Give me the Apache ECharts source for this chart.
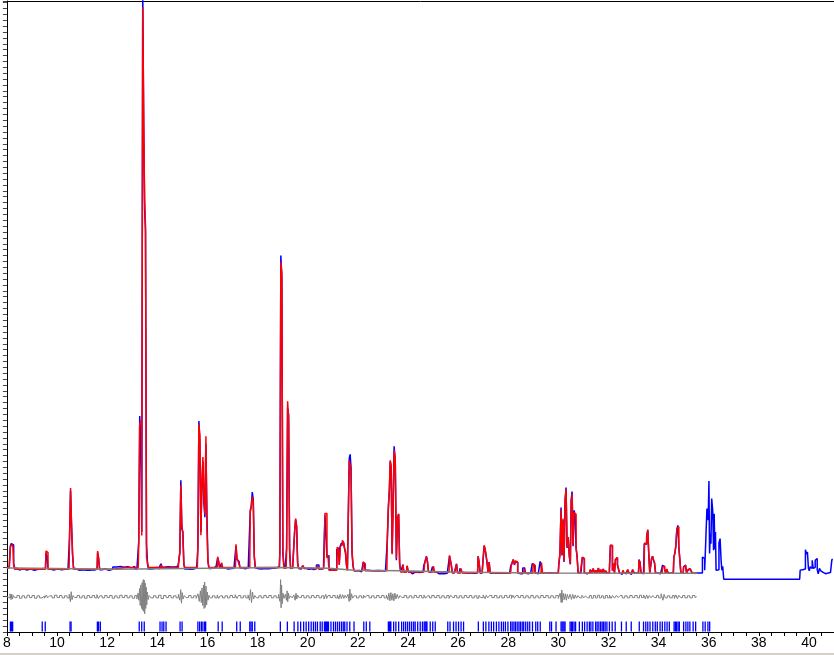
<!DOCTYPE html>
<html>
<head>
<meta charset="utf-8">
<script src="https://cdn.jsdelivr.net/npm/echarts@6/dist/echarts.min.js"></script>
<style>
html,body{margin:0;padding:0;background:#fff;}
#chart{width:834px;height:655px;}
</style>
</head>
<body>
<div id="chart"></div>
<script>
// 2-theta tick labels shown on the x axis
const xTickLabels = [8,10,12,14,16,18,20,22,24,26,28,30,32,34,36,38,40];

// Observed profile [2theta, counts]
const obsPoints = [
[8.00,-20],[8.04,-30],[8.08,10],[8.12,60],[8.16,360],[8.19,403],[8.22,403],[8.25,380],[8.29,60],[8.33,-10],[8.40,-17],[8.50,-45],[8.65,-25],[8.80,-45],[8.95,-30],[9.10,-50],[9.25,-35],[9.40,-25],[9.54,-15],[9.58,240],[9.62,200],[9.66,-30],[9.80,-45],[9.95,-25],[10.10,-40],[10.25,-35],[10.40,-20],[10.48,-30],[10.52,510],[10.56,1300],[10.60,690],[10.64,220],[10.68,-20],[10.80,-50],[11.00,-45],[11.20,-50],[11.40,-45],[11.60,-30],[11.64,250],[11.68,140],[11.72,-40],[11.85,-30],[12.00,-50],[12.15,-35],[12.30,5],[12.45,15],[12.60,0],[12.75,10],[12.90,-10],[13.05,15],[13.15,-30],[13.24,20],
[13.28,430],[13.32,2570],[13.36,2160],[13.40,600],[13.44,9800],[13.48,7400],[13.51,6100],[13.55,5700],[13.59,400],[13.63,60],[13.67,-30],[13.80,-20],[13.95,0],[14.05,-25],[14.13,10],[14.17,60],[14.21,0],[14.35,10],[14.50,5],[14.65,5],[14.80,10],
[14.84,20],[14.88,100],[14.92,240],[14.96,1479],[15.00,650],[15.04,612],[15.08,50],[15.12,-30],[15.25,-35],[15.40,-30],[15.55,-20],
[15.60,10],[15.64,330],[15.68,2487],[15.72,2100],[15.76,600],[15.80,1400],[15.84,1800],[15.88,1100],[15.92,850],[15.96,2100],[16.00,918],[16.04,120],[16.08,-20],[16.20,-10],[16.30,10],
[16.39,-10],[16.43,160],[16.47,90],[16.51,-20],[16.59,60],[16.63,-10],[16.75,-30],[16.90,-20],[17.00,-15],
[17.12,0],[17.16,360],[17.20,130],[17.24,100],[17.28,120],[17.32,-10],[17.45,-25],[17.57,-10],
[17.69,10],[17.73,969],[17.77,1037],[17.81,1280],[17.85,1150],[17.89,180],[17.93,-10],[18.00,-20],[18.15,-30],[18.30,-20],[18.45,-25],[18.60,-15],[18.75,-10],
[18.87,10],[18.91,260],[18.95,5300],[18.99,4900],[19.03,250],[19.07,30],[19.14,-10],[19.18,323],[19.22,2700],[19.26,2600],[19.30,300],[19.34,-20],[19.40,-10],
[19.46,0],[19.50,612],[19.54,810],[19.58,700],[19.62,80],[19.66,-20],[19.75,-30],[19.84,20],[19.90,-20],[20.00,-35],[20.10,-25],[20.20,-40],[20.30,-20],[20.40,40],[20.50,-30],[20.60,-20],
[20.67,68],[20.71,890],[20.75,900],[20.79,175],[20.83,200],[20.87,-30],[20.95,-50],[21.05,-40],[21.12,-45],
[21.20,300],[21.24,330],[21.28,50],[21.32,357],[21.36,403],[21.41,430],[21.45,400],[21.49,320],[21.53,240],[21.57,40],[21.60,-40],[21.64,830],[21.68,1850],[21.71,1921],[21.75,1695],[21.79,250],[21.83,30],[21.87,-60],
[22.00,-55],[22.10,-75],[22.20,-50],[22.24,90],[22.28,50],[22.32,-50],[22.45,-55],[22.60,-60],[22.75,-55],[22.90,-60],[23.05,-60],
[23.16,-50],[23.20,480],[23.24,1000],[23.28,1300],[23.31,1800],[23.35,1700],[23.39,238],[23.43,1088],[23.47,2057],[23.52,1800],[23.56,120],[23.61,830],[23.65,900],[23.69,60],[23.73,-70],
[23.78,-80],[23.82,40],[23.86,-80],[23.95,-75],[23.99,20],[24.03,-75],[24.15,-80],[24.20,-110],[24.30,-80],[24.45,-90],
[24.60,-80],[24.68,40],[24.72,120],[24.76,187],[24.80,90],[24.84,-70],[24.92,-85],[25.04,10],[25.08,-80],[25.20,-110],[25.30,-110],[25.40,-110],[25.50,-100],
[25.64,-80],[25.68,190],[25.71,220],[25.75,40],[25.79,-90],[25.92,-90],[25.96,60],[26.00,-90],[26.14,-20],[26.18,-90],[26.30,-95],[26.45,-95],[26.60,-100],
[26.78,-90],[26.82,187],[26.86,80],[26.90,-95],[27.02,-90],[27.06,360],[27.10,300],[27.14,190],[27.18,70],[27.22,-95],[27.26,90],[27.30,-95],[27.45,-95],[27.60,-100],[27.75,-95],[27.90,-100],
[28.06,-95],[28.14,20],[28.18,80],[28.23,131],[28.27,40],[28.31,100],[28.36,80],[28.40,-95],[28.50,-110],[28.66,-10],[28.70,-95],[28.80,-110],[28.90,-95],
[29.02,63],[29.06,30],[29.10,-95],[29.20,-110],[29.35,102],[29.39,-95],[29.50,-100],[29.65,-95],[29.80,-100],
[30.00,-95],[30.04,40],[30.09,220],[30.13,1015],[30.17,204],[30.21,800],[30.25,90],[30.29,1120],[30.33,1355],[30.37,330],[30.42,500],[30.46,180],[30.50,50],[30.53,1151],[30.57,1287],[30.61,360],[30.65,969],[30.69,880],[30.73,320],[30.77,190],[30.81,-90],
[30.90,-100],[30.94,-80],[30.98,164],[31.02,140],[31.06,-95],[31.15,-110],[31.25,-95],[31.30,-45],[31.36,-90],[31.42,-25],[31.47,-95],[31.52,-50],[31.58,-100],[31.62,-15],[31.67,-95],[31.72,-40],[31.77,-95],[31.82,-30],[31.87,-100],[31.92,-60],[31.97,-100],
[32.02,-95],[32.06,-40],[32.10,374],[32.14,360],[32.18,-50],[32.22,63],[32.26,-95],[32.30,131],[32.34,164],[32.38,40],[32.42,-30],[32.46,-95],[32.55,-120],[32.60,-60],[32.64,-95],[32.72,-110],[32.80,-45],[32.84,-95],[32.92,-120],[33.00,-40],[33.04,-95],[33.12,-100],
[33.20,-95],[33.24,130],[33.28,90],[33.32,-95],[33.40,-110],[33.46,400],[33.50,390],[33.55,527],[33.59,630],[33.63,220],[33.67,-95],[33.70,-100],[33.74,140],[33.78,190],[33.82,120],[33.86,70],[33.90,-95],[34.00,-100],[34.08,-110],
[34.14,-95],[34.18,34],[34.22,10],[34.26,-30],[34.30,-95],[34.36,-40],[34.40,-95],[34.50,-100],
[34.59,-90],[34.63,170],[34.67,240],[34.71,360],[34.75,640],[34.79,714],[34.83,330],[34.87,130],[34.91,-95],
[34.98,-100],[35.02,10],[35.06,40],[35.10,0],[35.14,-95],[35.20,-50],[35.26,-30],[35.32,-45],[35.36,-95],[35.45,-100],[35.55,-97],[35.65,-97],[35.72,-97],
[35.78,175],[35.82,148],[35.86,-51],[35.90,403],[35.96,998],[36.00,800],[36.02,1467],[36.05,233],[36.08,573],[36.10,400],[36.14,1168],[36.18,969],[36.21,289],[36.23,912],[36.26,306],[36.28,600],[36.31,-51],[36.35,-80],[36.39,-40],[36.43,413],[36.48,488],[36.51,119],[36.54,-51],[36.58,17],[36.62,-204],
[39.63,-204],[39.67,-51],[39.72,-40],[39.78,-10],[39.83,-30],[39.89,300],[39.92,220],[39.96,260],[40.00,-20],[40.03,-60],[40.07,10],[40.11,-20],[40.15,119],[40.19,-20],[40.23,0],[40.27,119],[40.31,148],[40.35,-40],[40.39,-110],[40.45,-20],[40.50,-60],[40.55,-90],[40.62,-95],[40.68,-110],[40.74,-95],[40.80,-110],[40.86,-90],[40.90,-100],[40.93,131],[40.98,131]
];

// Calculated profile [2theta, counts]
const calcPoints = [
[8.00,-10],[8.08,-10],[8.12,40],[8.16,357],[8.19,330],[8.22,380],[8.25,403],[8.29,30],[8.33,-34],
[9.54,-34],[9.58,278],[9.62,250],[9.66,-34],
[10.48,-34],[10.52,490],[10.56,1348],[10.60,714],[10.64,230],[10.68,-34],
[11.60,-34],[11.64,277],[11.68,160],[11.72,-34],
[12.22,-34],[12.26,-5],
[13.24,-5],[13.28,410],[13.32,2450],[13.36,2470],[13.40,540],[13.44,9520],[13.48,7565],[13.51,6240],[13.55,5814],[13.59,175],[13.63,80],[13.67,-5],
[14.13,-5],[14.17,40],[14.21,-5],
[14.84,-5],[14.88,136],[14.92,260],[14.96,1400],[15.00,714],[15.04,560],[15.08,50],[15.12,-5],
[15.60,-5],[15.64,374],[15.68,2431],[15.72,2244],[15.76,544],[15.80,1423],[15.84,1875],[15.88,1196],[15.92,900],[15.96,2227],[16.00,700],[16.04,100],[16.08,-5],
[16.39,-5],[16.43,180],[16.47,100],[16.51,-5],[16.55,-5],[16.59,80],[16.63,-5],
[17.12,-5],[17.16,391],[17.20,150],[17.24,110],[17.28,119],[17.32,-5],
[17.69,-5],[17.73,940],[17.77,1025],[17.81,1200],[17.85,1110],[17.89,200],[17.93,-5],
[18.87,-5],[18.91,240],[18.95,5185],[18.99,5000],[19.03,300],[19.07,-17],
[19.14,-17],[19.18,300],[19.22,2822],[19.26,2511],[19.30,250],[19.34,-17],
[19.46,-17],[19.50,600],[19.54,828],[19.58,685],[19.62,60],[19.66,-17],
[19.80,-17],[19.84,30],[19.88,-17],
[20.36,-25],[20.40,34],[20.44,-25],
[20.63,-25],[20.67,40],[20.71,913],[20.75,913],[20.79,160],[20.83,204],[20.87,-50],
[21.16,-50],[21.20,345],[21.24,300],[21.28,40],[21.32,357],[21.36,380],[21.41,459],[21.45,420],[21.49,335],[21.53,260],[21.57,30],[21.60,-55],[21.64,855],[21.68,1819],[21.71,1850],[21.75,1650],[21.79,270],[21.83,20],[21.87,-58],
[22.20,-58],[22.24,90],[22.28,60],[22.32,-58],
[23.16,-58],[23.20,515],[23.24,1037],[23.28,1326],[23.31,1819],[23.35,1722],[23.39,220],[23.43,1050],[23.47,1989],[23.52,1847],[23.56,150],[23.61,855],[23.65,912],[23.69,70],[23.73,-80],
[23.78,-80],[23.82,51],[23.86,-80],[23.95,-80],[23.99,30],[24.03,-80],
[24.64,-80],[24.68,40],[24.72,131],[24.76,175],[24.80,100],[24.84,-80],
[25.00,-80],[25.04,20],[25.08,-80],
[25.64,-80],[25.68,204],[25.71,180],[25.75,40],[25.79,-95],
[25.92,-95],[25.96,51],[26.00,-95],[26.10,-95],[26.14,-20],[26.18,-95],
[26.78,-95],[26.82,187],[26.86,90],[26.90,-95],
[27.02,-95],[27.06,374],[27.10,318],[27.14,200],[27.18,80],[27.22,-95],[27.26,90],[27.30,-95],
[28.10,-100],[28.14,20],[28.18,80],[28.23,131],[28.27,50],[28.31,110],[28.36,90],[28.40,-100],[28.62,-100],[28.66,-17],[28.70,-100],
[28.98,-100],[29.02,63],[29.06,30],[29.10,-100],[29.31,-100],[29.35,80],[29.39,-100],
[30.00,-100],[30.04,60],[30.09,233],[30.13,980],[30.17,200],[30.21,828],[30.25,100],[30.29,1151],[30.33,1330],[30.37,345],[30.42,515],[30.46,200],[30.50,60],[30.53,1100],[30.57,1250],[30.61,374],[30.65,930],[30.69,900],[30.73,335],[30.77,175],[30.81,-100],
[30.94,-100],[30.98,175],[31.02,150],[31.06,-100],
[31.25,-100],[31.30,-40],[31.36,-100],[31.42,-20],[31.47,-100],[31.52,-50],[31.58,-100],[31.62,-10],[31.67,-100],[31.72,-40],[31.77,-100],[31.82,-30],[31.87,-100],[31.92,-60],[31.97,-100],
[32.02,-100],[32.06,-30],[32.10,374],[32.14,374],[32.18,-60],[32.22,63],[32.26,-100],[32.30,131],[32.34,164],[32.38,50],[32.42,-20],[32.46,-100],
[32.56,-100],[32.60,-50],[32.64,-100],[32.76,-100],[32.80,-40],[32.84,-100],[32.96,-100],[33.00,-45],[33.04,-100],
[33.20,-100],[33.24,119],[33.28,80],[33.32,-100],[33.42,-100],[33.46,413],[33.50,400],[33.55,500],[33.59,641],[33.63,233],[33.67,-100],
[33.70,-100],[33.74,150],[33.78,187],[33.82,130],[33.86,80],[33.90,-100],
[34.14,-100],[34.18,0],[34.22,20],[34.26,-20],[34.30,-100],[34.36,-30],[34.40,-100],
[34.59,-100],[34.63,164],[34.67,233],[34.71,374],[34.75,657],[34.79,690],[34.83,345],[34.87,120],[34.91,-100],
[34.98,-100],[35.02,0],[35.06,34],[35.10,10],[35.14,-100],[35.20,-40],[35.26,-20],[35.32,-40],[35.36,-100],[35.50,-105]
];

// Background level [2theta, counts] (held until the next point)
const backPoints = [
[8.00,-10],[8.30,-34],[12.22,-5],[18.98,-17],[20.86,-50],[21.86,-58],[23.70,-80],[25.78,-95],[29.00,-100],[35.55,-105]
];

// Difference (obs - calc) [2theta, counts]
const diffPoints = [
[8.00,0],[8.05,15],[8.10,-20],[8.15,50],[8.18,-50],[8.21,45],[8.24,-40],[8.28,20],[8.35,-15],[8.45,20],[8.55,-25],[8.65,15],[8.75,-20],[8.85,25],[8.95,-15],[9.05,20],[9.15,-25],[9.25,15],[9.35,-20],[9.45,10],[9.55,-25],[9.60,30],[9.65,-20],[9.75,15],[9.85,-20],[9.95,25],
[10.05,-15],[10.15,20],[10.25,-20],[10.35,15],[10.45,-20],[10.52,40],[10.55,-85],[10.58,85],[10.62,-50],[10.66,20],[10.75,-15],[10.85,20],[10.95,-20],[11.05,15],[11.15,-25],[11.25,20],[11.35,-15],[11.45,20],[11.55,-20],[11.63,35],[11.67,-30],[11.75,15],[11.85,-20],[11.95,20],
[12.05,-15],[12.15,20],[12.25,-25],[12.35,15],[12.45,-20],[12.55,25],[12.65,-15],[12.75,20],[12.85,-20],[12.95,15],[13.05,-25],[13.15,20],[13.22,-40],[13.25,60],[13.28,-60],[13.31,140],[13.33,-150],[13.36,200],[13.38,-200],[13.41,240],[13.43,-230],[13.45,290],[13.47,-250],[13.49,280],[13.51,-290],[13.53,230],[13.55,-200],[13.57,160],[13.59,-140],[13.62,80],[13.65,-50],[13.70,20],[13.80,-20],[13.90,15],
[14.00,-20],[14.10,25],[14.20,-30],[14.30,20],[14.40,-15],[14.50,20],[14.60,-20],[14.70,15],[14.80,-20],[14.88,40],[14.92,-60],[14.95,120],[14.98,-110],[15.01,70],[15.05,-40],[15.10,20],[15.20,-15],[15.30,20],[15.40,-20],[15.50,15],[15.60,-30],[15.65,50],[15.70,-80],[15.74,100],[15.77,-100],[15.80,150],[15.83,-150],[15.86,200],[15.88,-200],[15.90,250],[15.93,-180],[15.96,180],[15.98,-140],
[16.01,80],[16.04,-60],[16.08,25],[16.15,-20],[16.25,15],[16.35,-20],[16.43,30],[16.47,-30],[16.55,15],[16.65,-20],[16.75,15],[16.85,-20],[16.95,20],[17.05,-15],[17.16,35],[17.20,-30],[17.28,20],[17.38,-20],[17.48,15],[17.58,-20],[17.66,30],[17.70,-60],[17.74,120],[17.78,-100],[17.82,80],[17.86,-40],[17.92,20],
[18.00,-20],[18.10,15],[18.20,-20],[18.30,20],[18.40,-15],[18.50,20],[18.60,-20],[18.70,15],[18.80,-20],[18.88,40],[18.91,-80],[18.93,290],[18.95,-190],[18.97,200],[19.00,-120],[19.03,60],[19.08,-30],[19.14,40],[19.17,-60],[19.19,100],[19.22,-85],[19.25,60],[19.28,-30],[19.35,15],[19.42,-20],[19.48,30],[19.52,-60],[19.55,60],[19.58,-40],[19.62,30],[19.70,-15],[19.80,20],[19.90,-20],
[20.00,15],[20.10,-20],[20.20,20],[20.30,-15],[20.40,20],[20.50,-20],[20.60,15],[20.70,-40],[20.74,40],[20.78,-30],[20.85,20],[20.95,-15],[21.05,20],[21.15,-20],[21.22,30],[21.27,-40],[21.32,40],[21.37,-30],[21.42,35],[21.47,-30],[21.52,25],[21.58,-20],[21.64,40],[21.67,-80],[21.70,130],[21.73,-60],[21.77,50],[21.82,-25],[21.90,15],
[22.00,-20],[22.10,15],[22.20,-20],[22.26,25],[22.32,-15],[22.40,20],[22.50,-20],[22.60,15],[22.70,-20],[22.80,20],[22.90,-15],[23.00,20],[23.10,-20],[23.18,30],[23.22,-50],[23.26,60],[23.30,-70],[23.34,70],[23.38,-60],[23.42,50],[23.46,-70],[23.50,60],[23.54,-40],[23.60,40],[23.65,-30],[23.72,20],[23.80,-15],[23.90,20],
[24.00,-20],[24.10,15],[24.20,-20],[24.30,20],[24.40,-15],[24.50,20],[24.60,-20],[24.68,30],[24.74,-25],[24.82,15],[24.90,-20],[25.00,20],[25.10,-15],[25.20,20],[25.30,-20],[25.40,15],[25.50,-20],[25.60,20],[25.68,-30],[25.74,25],[25.82,-15],[25.90,20],
[26.00,-20],[26.10,15],[26.20,-20],[26.30,20],[26.40,-15],[26.50,20],[26.60,-20],[26.70,15],[26.80,-25],[26.86,25],[26.95,-15],[27.05,30],[27.10,-35],[27.15,25],[27.22,-20],[27.30,20],[27.40,-15],[27.50,20],[27.60,-20],[27.70,15],[27.80,-20],[27.90,20],
[28.00,-15],[28.10,25],[28.16,-30],[28.22,25],[28.28,-25],[28.35,20],[28.45,-15],[28.55,20],[28.65,-20],[28.75,15],[28.85,-20],[28.95,20],[29.05,-20],[29.15,15],[29.25,-20],[29.35,20],[29.45,-15],[29.55,20],[29.65,-20],[29.75,15],[29.85,-20],[29.95,20],
[30.05,-30],[30.10,60],[30.13,-100],[30.15,115],[30.18,-95],[30.21,60],[30.26,-50],[30.30,50],[30.34,-60],[30.38,40],[30.44,-35],[30.50,40],[30.55,-45],[30.60,40],[30.65,-35],[30.70,30],[30.75,-25],[30.82,20],[30.90,-20],[30.98,25],
[31.05,-20],[31.12,15],[31.20,-20],[31.28,20],[31.36,-25],[31.44,20],[31.52,-20],[31.60,25],[31.68,-20],[31.76,15],[31.84,-25],[31.92,20],[32.00,-20],[32.08,30],[32.13,-30],[32.20,20],[32.28,-25],[32.35,20],[32.43,-15],[32.50,20],[32.60,-20],[32.70,15],[32.80,-20],[32.90,20],
[33.00,-15],[33.10,20],[33.20,-20],[33.28,25],[33.36,-15],[33.45,30],[33.50,-35],[33.55,30],[33.60,-30],[33.66,20],[33.74,-20],[33.80,20],[33.88,-15],[33.96,20],[34.05,-20],[34.15,50],[34.20,-60],[34.24,40],[34.30,-20],[34.40,15],[34.50,-20],[34.60,20],[34.66,-30],[34.72,30],[34.78,-35],[34.84,25],[34.92,-15],
[35.00,20],[35.10,-20],[35.20,15],[35.30,-20],[35.40,20],[35.50,-15],[35.55,0]
];

// Reflection positions (2theta)
const reflections = [
8.14,8.18,8.23,9.41,9.53,10.52,10.56,11.61,11.66,11.73,13.28,13.38,13.48,14.11,14.19,14.26,14.35,14.91,14.99,
15.62,15.69,15.76,15.82,15.89,15.93,16.43,16.59,17.17,17.31,17.69,17.74,17.79,17.89,18.91,19.19,19.46,19.61,19.72,19.84,19.94,
20.04,20.14,20.23,20.31,20.39,20.50,20.58,20.67,20.71,20.75,20.79,20.83,20.93,21.03,21.11,21.19,21.27,21.35,21.42,21.48,21.57,21.68,21.85,
22.24,22.34,22.48,23.22,23.26,23.30,23.32,23.43,23.52,23.63,23.75,23.83,23.91,23.99,24.07,24.15,24.23,24.29,24.39,24.49,24.58,24.65,24.69,24.73,24.76,24.89,24.99,
25.09,25.59,25.68,25.82,25.92,26.02,26.12,26.22,26.81,27.01,27.11,27.23,27.33,27.42,27.53,27.63,27.73,27.81,27.89,27.99,
28.10,28.16,28.23,28.29,28.36,28.43,28.49,28.56,28.62,28.70,28.78,28.86,28.97,29.10,29.18,29.28,29.66,29.73,29.91,
30.11,30.15,30.19,30.23,30.27,30.47,30.52,30.57,30.63,30.69,30.84,30.96,31.05,31.15,31.24,31.30,31.38,31.49,31.55,31.62,31.69,31.75,31.81,31.87,31.94,
32.04,32.15,32.27,32.52,32.71,32.91,33.23,33.40,33.49,33.57,33.66,33.77,33.87,33.95,34.06,34.15,34.25,34.34,34.43,34.62,34.67,34.72,34.78,34.83,
35.00,35.09,35.17,35.25,35.38,35.48,35.77,35.86,35.97,36.04
];

const DIFF_OFFSET = -500;   // vertical placement of difference curve
const TICK_LEVEL = -1007;   // vertical placement of reflection markers

const chart = echarts.init(document.getElementById('chart'), null, {renderer: 'canvas'});

const option = {
  animation: false,
  backgroundColor: '#ffffff',
  tooltip: {show: false},
  grid: {left: 4, right: 0, top: 1, bottom: 23, containLabel: false},
  graphic: [{
    type: 'rect', left: 0, top: 653, shape: {width: 834, height: 2},
    style: {fill: '#d4d0c8'}, silent: true
  }],
  xAxis: [{
    type: 'value', min: 8, max: 41, interval: 0.5,
    axisLine: {show: true, onZero: false, lineStyle: {color: '#000', width: 1}},
    axisTick: {show: true, length: 4, lineStyle: {color: '#000'}},
    splitLine: {show: false},
    axisLabel: {
      color: '#000', fontFamily: 'Liberation Sans, Arial, sans-serif', fontSize: 14, margin: 4,
      showMaxLabel: false,
      formatter: function (v) { return xTickLabels.indexOf(Math.round(v * 100) / 100) >= 0 ? String(v) : ''; }
    }
  }, {
    type: 'value', position: 'top', min: 8, max: 41,
    axisLine: {show: true, onZero: false, lineStyle: {color: '#000', width: 1}},
    axisTick: {show: false}, axisLabel: {show: false}, splitLine: {show: false}
  }],
  yAxis: {
    type: 'value', min: -1100, max: 9627, interval: 100,
    axisLine: {show: true, onZero: false, lineStyle: {color: '#000', width: 1}},
    axisTick: {show: true, length: 4, lineStyle: {color: '#444'}},
    axisLabel: {show: false},
    splitLine: {show: false}
  },
  series: [
    {
      name: 'Observed', type: 'line', data: obsPoints, step: 'middle',
      symbol: 'none', silent: true, clip: true,
      lineStyle: {color: '#0000ff', width: 1.5}
    },
    {
      name: 'Calculated', type: 'line', data: calcPoints, step: 'middle',
      symbol: 'none', silent: true, clip: true,
      lineStyle: {color: '#ff0000', width: 1.5}
    },
    {
      name: 'Background', type: 'line', data: backPoints, step: 'end',
      symbol: 'none', silent: true,
      lineStyle: {color: '#808080', width: 1.5}
    },
    {
      name: 'Difference', type: 'line', step: 'middle',
      data: diffPoints.map(function (p) { return [p[0], p[1] + DIFF_OFFSET]; }),
      symbol: 'none', silent: true,
      lineStyle: {color: '#808080', width: 1}
    },
    {
      name: 'Reflections', type: 'scatter',
      data: reflections.map(function (x) { return [x, TICK_LEVEL]; }),
      symbol: 'rect', symbolSize: [1.3, 10], silent: true,
      itemStyle: {color: '#0000ff', opacity: 1}
    }
  ]
};
chart.setOption(option);
</script>
</body>
</html>
